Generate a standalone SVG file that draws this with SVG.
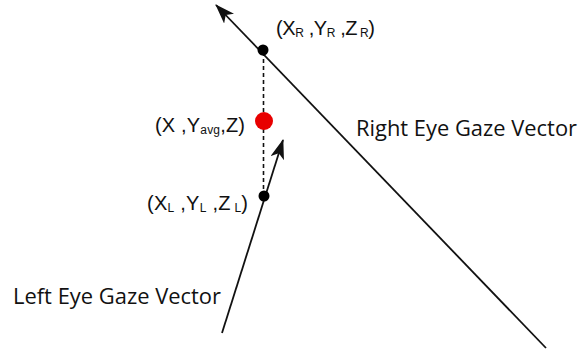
<svg xmlns="http://www.w3.org/2000/svg" width="579" height="354" viewBox="0 0 579 354">
<style>
.ln{stroke:#111;stroke-width:1.8;fill:none}
.dash{stroke:#111;stroke-width:1.6;stroke-dasharray:4 3;fill:none}
.co{font-family:"Liberation Sans",Arial,sans-serif;font-size:20px;fill:#111}
.sub{font-size:12px}
.lb{font-family:"Open Sans","Noto Sans",sans-serif;font-size:21px;fill:#111}
</style>
<defs>
<marker id="ah" viewBox="0 0 20 14" refX="19" refY="7" markerWidth="20" markerHeight="14" markerUnits="userSpaceOnUse" orient="auto">
<path d="M0,0 L20,7 L0,14 L5,7 Z" fill="#111"/>
</marker>
</defs>
<g id="connectors">
<line class="ln" x1="546" y1="348" x2="216" y2="5" marker-end="url(#ah)"/>
<line class="ln" x1="222" y1="333" x2="283" y2="140" marker-end="url(#ah)"/>
<line class="dash" x1="263.5" y1="52" x2="263.5" y2="194"/>
</g>
<g id="node-right">
<circle cx="263" cy="50" r="5.5" fill="#000"/>
<text class="co" x="276" y="35" textLength="99" lengthAdjust="spacing">(X<tspan class="sub" dy="2">R</tspan><tspan dy="-2"> ,Y</tspan><tspan class="sub" dy="2">R</tspan><tspan dy="-2"> ,Z</tspan><tspan class="sub" dy="2"> R</tspan><tspan dy="-2">)</tspan></text>
</g>
<g id="node-avg">
<circle cx="264" cy="121" r="9" fill="#e80000"/>
<text class="co" x="155" y="132" textLength="90" lengthAdjust="spacing">(X ,Y<tspan class="sub" dy="2">avg</tspan><tspan dy="-2">,Z)</tspan></text>
</g>
<g id="node-left">
<circle cx="264" cy="196" r="5.5" fill="#000"/>
<text class="co" x="147" y="210" textLength="101" lengthAdjust="spacing">(X<tspan class="sub" dy="2">L</tspan><tspan dy="-2">  ,Y</tspan><tspan class="sub" dy="2">L</tspan><tspan dy="-2">  ,Z</tspan><tspan class="sub" dy="2"> L</tspan><tspan dy="-2">)</tspan></text>
</g>
<text class="lb" x="356" y="136" textLength="221" lengthAdjust="spacingAndGlyphs">Right Eye Gaze Vector</text>
<text class="lb" x="13" y="304" textLength="208" lengthAdjust="spacingAndGlyphs">Left Eye Gaze Vector</text>
</svg>
